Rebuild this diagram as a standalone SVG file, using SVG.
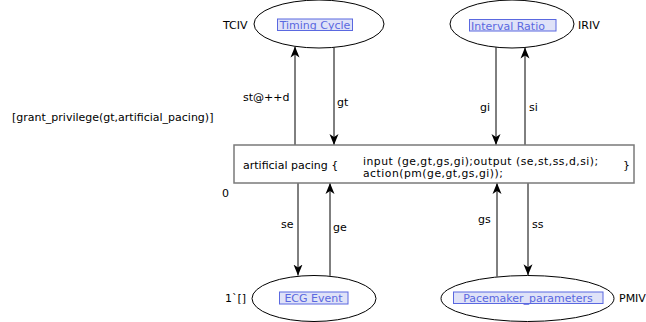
<svg xmlns="http://www.w3.org/2000/svg" width="646" height="322" viewBox="0 0 646 322">
<style>
text{font-family:"DejaVu Sans","Liberation Sans",sans-serif;font-size:11px;fill:#000}
.place{fill:#fff;stroke:#000;stroke-width:1}
.lblbox{fill:#dfe2f8;stroke:#5a68e0;stroke-width:1}
.lbl{fill:#5a68e0;text-anchor:middle}
.arc{stroke:#000;stroke-width:1;fill:none;marker-end:url(#ah)}
.trans{fill:#fff;stroke:#7a7a7a;stroke-width:1.5}
.code{font-size:10.8px;letter-spacing:0.5px}
</style>
<defs>
<marker id="ah" markerUnits="userSpaceOnUse" markerWidth="12" markerHeight="10" refX="11" refY="5" orient="auto">
<path d="M0,0.5 L11,5 L0,9.5 L3,5 z" fill="#000"/>
</marker>
</defs>
<rect width="646" height="322" fill="#fff"/>
<g id="connectors">
<line class="arc" x1="295" y1="145" x2="295" y2="46.5"/>
<line class="arc" x1="334" y1="47.4" x2="334" y2="145"/>
<line class="arc" x1="496" y1="47.2" x2="496" y2="145"/>
<line class="arc" x1="525" y1="145" x2="525" y2="47.5"/>
<line class="arc" x1="298" y1="183" x2="298" y2="275.5"/>
<line class="arc" x1="330" y1="275.8" x2="330" y2="183"/>
<line class="arc" x1="497" y1="276.5" x2="497" y2="183"/>
<line class="arc" x1="528" y1="183" x2="528" y2="275.2"/>
<text x="243" y="101">st@++d</text>
<text x="337" y="106">gt</text>
<text x="480" y="110.5">gi</text>
<text x="529" y="111">si</text>
<text x="281" y="228">se</text>
<text x="333" y="231">ge</text>
<text x="478" y="222.5">gs</text>
<text x="532" y="228">ss</text>
</g>
<g id="TimingCycle">
<ellipse class="place" cx="319" cy="24" rx="65" ry="24"/>
<rect class="lblbox" x="277.5" y="19" width="75" height="11.5"/>
<text class="lbl" x="315" y="29">Timing Cycle</text>
<text x="223" y="29">TCIV</text>
</g>
<g id="IntervalRatio">
<ellipse class="place" cx="512" cy="24" rx="62" ry="24"/>
<rect class="lblbox" x="469.5" y="19.5" width="86.5" height="11.5"/>
<text class="lbl" x="508" y="29.5">Interval Ratio </text>
<text x="578" y="29">IRIV</text>
</g>
<g id="ArtificialPacing">
<rect class="trans" x="234" y="145" width="400" height="38"/>
<text x="243" y="168.5">artificial pacing {</text>
<text class="code" x="363" y="165">input (ge,gt,gs,gi);output (se,st,ss,d,si);</text>
<text class="code" x="363" y="176.5">action(pm(ge,gt,gs,gi));</text>
<text x="623" y="168.5">}</text>
<text x="12" y="120.5">[grant_privilege(gt,artificial_pacing)]</text>
<text x="222" y="197">0</text>
</g>
<g id="ECGEvent">
<ellipse class="place" cx="314" cy="298.5" rx="62" ry="23"/>
<rect class="lblbox" x="279.5" y="292" width="68.5" height="12"/>
<text class="lbl" x="313.5" y="302">ECG Event </text>
<text x="225" y="302">1`[]</text>
</g>
<g id="PacemakerParameters">
<ellipse class="place" cx="527.5" cy="298.5" rx="86.5" ry="23"/>
<rect class="lblbox" x="453.5" y="292" width="149.5" height="11.5"/>
<text class="lbl" x="528" y="302">Pacemaker_parameters </text>
<text x="619" y="302">PMIV</text>
</g>
</svg>
